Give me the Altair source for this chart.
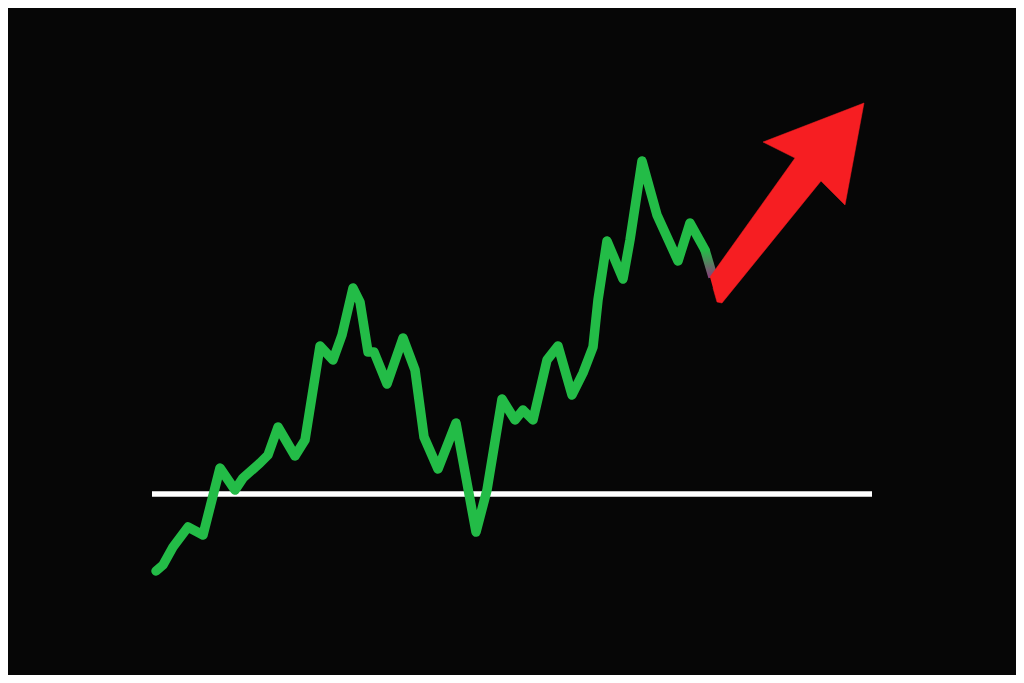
import altair as alt
import pandas as pd

# Green price line (x position, value)
line_x = [156, 163, 173, 188, 203, 220, 235, 243, 260, 268, 278, 295, 305, 320,
          333, 342, 353, 360, 368, 374, 387, 403, 415, 424, 438, 456, 467, 476,
          487, 502, 515, 523, 533, 547, 558, 572, 583, 593, 598, 607, 623, 630,
          642, 657, 678, 690, 705]
line_y = [112, 118, 136, 156, 148, 215, 193, 205, 220, 228, 256, 227, 243, 337,
          323, 348, 395, 381, 331, 331, 299, 345, 313, 246, 214, 260, 200, 151,
          193, 284, 263, 273, 263, 323, 337, 288, 310, 336, 383, 442, 404, 443,
          522, 468, 422, 460, 433]

# Fading tail of the line into the arrow
tail_x = [705, 713]
tail_y = [433, 406]

# Baseline
base_x = [152]
base_x2 = [872]
base_y = [189]

# Arrow outline (x, value), in drawing order
arrow_x = [710, 795, 763, 864, 845, 821, 722, 717, 713]
arrow_y = [406, 525, 541, 580, 478, 502, 380, 381, 395]

GREEN = "#23bc47"
RED = "#f61e22"
BG = "#060606"

xs = alt.Scale(domain=[8, 1016])
ys = alt.Scale(domain=[8, 675])

line_df = pd.DataFrame({"x": line_x, "y": line_y})
tail_df = pd.DataFrame({"x": tail_x, "y": tail_y})
base_df = pd.DataFrame({"x": base_x, "x2": base_x2, "y": base_y})
arrow_df = pd.DataFrame({"x": arrow_x, "y": arrow_y, "o": list(range(len(arrow_x)))})

base = alt.Chart(base_df).mark_rule(color="white", strokeWidth=5.5).encode(
    x=alt.X("x:Q", scale=xs, axis=None),
    x2="x2:Q",
    y=alt.Y("y:Q", scale=ys, axis=None),
)

line = alt.Chart(line_df).mark_line(
    color=GREEN, strokeWidth=9.5, strokeCap="round", strokeJoin="round"
).encode(
    x=alt.X("x:Q", scale=xs, axis=None),
    y=alt.Y("y:Q", scale=ys, axis=None),
    order=alt.Order("x:Q"),
)

tail = alt.Chart(tail_df).mark_line(
    strokeWidth=9.5,
    strokeCap="butt",
    color=alt.Gradient(
        gradient="linear",
        stops=[alt.GradientStop(color=GREEN, offset=0),
               alt.GradientStop(color="#8a3f7a", offset=1)],
        x1=0, x2=0, y1=0, y2=1,
    ),
).encode(
    x=alt.X("x:Q", scale=xs, axis=None),
    y=alt.Y("y:Q", scale=ys, axis=None),
)

arrow = alt.Chart(arrow_df).mark_line(
    filled=True, fill=RED, stroke=RED, strokeWidth=0.5, strokeJoin="round"
).encode(
    x=alt.X("x:Q", scale=xs, axis=None),
    y=alt.Y("y:Q", scale=ys, axis=None),
    order=alt.Order("o:Q"),
)

chart = alt.layer(base, line, tail, arrow).properties(
    width=1008, height=667, padding=0, background=BG
).configure_view(stroke=None)

chart.save("out.html", embed_options={"renderer": "svg", "actions": False})
